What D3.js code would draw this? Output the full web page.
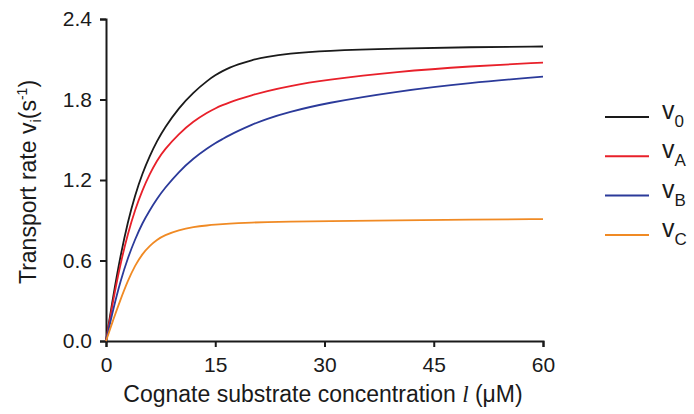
<!DOCTYPE html>
<html>
<head>
<meta charset="utf-8">
<script src="https://cdn.jsdelivr.net/npm/d3@7"></script>
<style>
  body { margin: 0; background: #fff; }
  svg { font-family: "Liberation Sans", Arial, sans-serif; }
</style>
</head>
<body>
<div id="chart"></div>
<script>
// values
var conc = [0, 1, 2, 3, 4, 5, 6, 7, 8, 10, 12, 14, 15, 16, 17, 18, 20, 22, 25, 30, 40, 50, 60];
var v0 = [0, 0.34, 0.64, 0.89, 1.09, 1.25, 1.38, 1.49, 1.586, 1.738, 1.854, 1.944, 1.981, 2.012, 2.038, 2.06, 2.094, 2.118, 2.142, 2.164, 2.181, 2.19, 2.195];
var vA = [0, 0.31, 0.58, 0.80, 0.98, 1.125, 1.245, 1.345, 1.425, 1.545, 1.638, 1.706, 1.734, 1.758, 1.779, 1.798, 1.832, 1.862, 1.899, 1.945, 2.008, 2.048, 2.075];
var vB = [0, 0.24, 0.45, 0.62, 0.76, 0.88, 0.975, 1.06, 1.135, 1.262, 1.362, 1.44, 1.475, 1.505, 1.535, 1.562, 1.612, 1.655, 1.705, 1.772, 1.862, 1.925, 1.97];
var vC = [0, 0.16, 0.31, 0.45, 0.565, 0.65, 0.71, 0.755, 0.788, 0.828, 0.85, 0.862, 0.867, 0.871, 0.875, 0.878, 0.883, 0.886, 0.889, 0.893, 0.899, 0.904, 0.909];
var seriesNames = ["0", "A", "B", "C"];
var seriesColors = ["#1a1a1a", "#e8202a", "#2b3a9a", "#f08a24"];
var xTicks = [0, 15, 30, 45, 60];
var yTicks = [0, 0.6, 1.2, 1.8, 2.4];

var W = 694, H = 414;
var margin = {top: 19, left: 106, right: 151, bottom: 73};
var w = W - margin.left - margin.right,
    h = H - margin.top - margin.bottom;

var svg = d3.select("#chart").append("svg")
    .attr("width", W).attr("height", H);

var g = svg.append("g").attr("transform", `translate(${margin.left},${margin.top})`);

var x = d3.scaleLinear().domain([0, 60]).range([0, w]);
var y = d3.scaleLinear().domain([0, 2.4]).range([h, 0]);

// axes
var xAxis = g.append("g").attr("transform", `translate(0,${h})`)
    .call(d3.axisBottom(x).tickValues(xTicks).tickSize(6).tickPadding(10).tickFormat(d3.format("d")));
var yAxis = g.append("g")
    .call(d3.axisLeft(y).tickValues(yTicks).tickSize(6).tickPadding(8).tickFormat(d3.format(".1f")));

[xAxis, yAxis].forEach(function(a){
    a.select(".domain").attr("stroke", "#1a1a1a").attr("stroke-width", 2);
    a.selectAll(".tick line").attr("stroke", "#1a1a1a").attr("stroke-width", 2);
    a.selectAll(".tick text").attr("fill", "#1a1a1a").style("font-size", "21px")
        .style("font-family", "'Liberation Sans', Arial, sans-serif");
});

// curves (basis spline through the read points keeps them smooth)
var data = [v0, vA, vB, vC];
var line = d3.line()
    .x(function(d){ return x(d[0]); })
    .y(function(d){ return y(d[1]); })
    .curve(d3.curveBasis);

data.forEach(function(vals, i){
    g.append("path")
        .datum(conc.map(function(c, j){ return [c, vals[j]]; }))
        .attr("d", line)
        .attr("fill", "none")
        .attr("stroke", seriesColors[i])
        .attr("stroke-width", 1.8);
});

// axis titles
var xt = svg.append("text")
    .attr("x", 323)
    .attr("y", 402)
    .attr("text-anchor", "middle")
    .attr("fill", "#1a1a1a")
    .style("font-size", "23px");
xt.append("tspan").text("Cognate substrate concentration ");
xt.append("tspan").style("font-family", "'Liberation Serif', serif").style("font-style", "italic").text("l");
xt.append("tspan").text(" (μM)");

var yt = svg.append("text")
    .attr("transform", `translate(36,182) rotate(-90)`)
    .attr("text-anchor", "middle")
    .attr("fill", "#1a1a1a")
    .style("font-size", "23px");
yt.append("tspan").text("Transport rate v");
yt.append("tspan").attr("dy", 5).style("font-size", "15px").text("i");
yt.append("tspan").attr("dy", -5).text("(s");
yt.append("tspan").attr("dy", -9).style("font-size", "14px").text("-1");
yt.append("tspan").attr("dy", 9).text(")");

// legend
var legend = svg.append("g").attr("transform", "translate(605,117)");
seriesNames.forEach(function(name, i){
    var row = legend.append("g").attr("transform", `translate(0,${i * 39.3})`);
    row.append("line")
        .attr("x1", 0).attr("x2", 44)
        .attr("stroke", seriesColors[i]).attr("stroke-width", 2);
    var t = row.append("text")
        .attr("x", 57).attr("y", 2)
        .attr("fill", "#1a1a1a")
        .style("font-size", "25px");
    t.append("tspan").text("v");
    t.append("tspan").attr("dy", 8).style("font-size", "17px").text(name);
});
</script>
</body>
</html>
